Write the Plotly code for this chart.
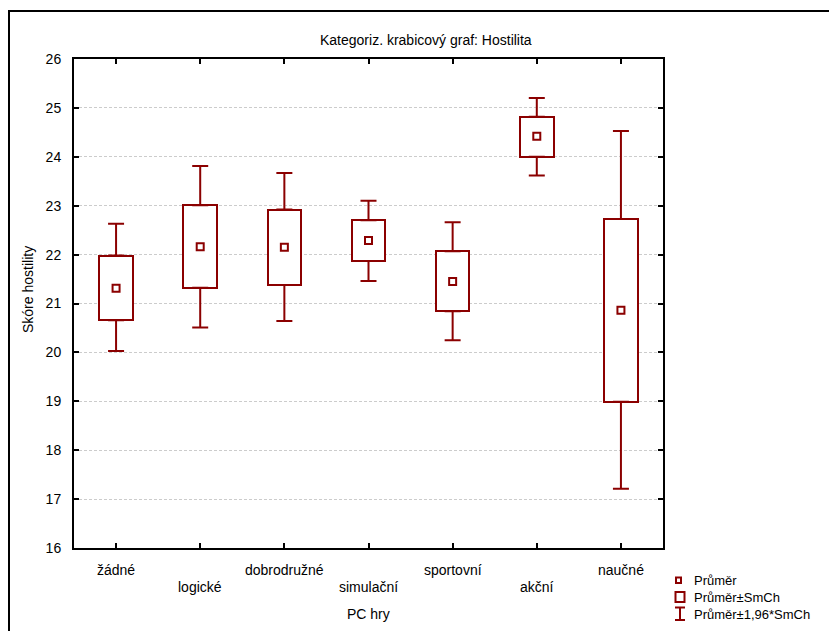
import plotly.graph_objects as go

categories = ["žádné", "logické", "dobrodružné", "simulační", "sportovní", "akční", "naučné"]
means = [21.31, 22.16, 22.15, 22.29, 21.45, 24.42, 20.86]
box_low = [20.66, 21.32, 21.38, 21.87, 20.84, 24.00, 18.99]
box_high = [21.98, 23.01, 22.92, 22.70, 22.07, 24.82, 22.73]
whisk_low = [20.03, 20.51, 20.64, 21.46, 20.25, 23.62, 17.21]
whisk_high = [22.63, 23.81, 23.67, 23.10, 22.66, 25.20, 24.53]
y_ticks = list(range(16, 27))

RED = "#8B0000"
FONT = "Liberation Sans, Arial, sans-serif"

W, H = 829, 631
L, R, T, B = 74, 166, 59, 83
PW, PH = W - L - R, H - T - B


def px(x):
    return (x - L) / PW


def py(y):
    return (H - B - y) / PH


fig = go.Figure()

# upper whiskers
fig.add_trace(go.Scatter(
    x=categories, y=box_high, mode="markers",
    marker=dict(size=1, color="rgba(0,0,0,0)"),
    error_y=dict(type="data", symmetric=False,
                 array=[h - b for h, b in zip(whisk_high, box_high)],
                 arrayminus=[0] * len(categories),
                 color=RED, thickness=2, width=8),
    showlegend=False, hoverinfo="skip"))
# lower whiskers
fig.add_trace(go.Scatter(
    x=categories, y=box_low, mode="markers",
    marker=dict(size=1, color="rgba(0,0,0,0)"),
    error_y=dict(type="data", symmetric=False,
                 array=[0] * len(categories),
                 arrayminus=[b - l for b, l in zip(box_low, whisk_low)],
                 color=RED, thickness=2, width=8),
    showlegend=False, hoverinfo="skip"))
# boxes (mean ± SE)
fig.add_trace(go.Bar(
    x=categories, base=box_low,
    y=[h - l for h, l in zip(box_high, box_low)],
    width=0.4, marker=dict(color="white", line=dict(color=RED, width=2)),
    showlegend=False))
# means
fig.add_trace(go.Scatter(
    x=categories, y=means, mode="markers",
    marker=dict(symbol="square", size=7, color="white", line=dict(color=RED, width=2)),
    showlegend=False))

fig.update_layout(
    width=W, height=H,
    margin=dict(l=L, r=R, t=T, b=B),
    paper_bgcolor="white", plot_bgcolor="white",
    font=dict(family=FONT, size=14, color="black"),
    bargap=0,
)
fig.update_xaxes(
    type="category", range=[-0.5, len(categories) - 0.5],
    showline=True, linecolor="black", linewidth=2, mirror="ticks",
    ticks="inside", ticklen=5, tickcolor="black", tickwidth=2,
    showticklabels=False, showgrid=False, zeroline=False)
fig.update_yaxes(
    range=[16, 26], tickvals=y_ticks, ticktext=[str(v) for v in y_ticks],
    showline=True, linecolor="black", linewidth=2, mirror="ticks",
    ticks="inside", ticklen=5, tickcolor="black", tickwidth=2,
    showgrid=True, gridcolor="#cccccc", griddash="3px,2px", gridwidth=1,
    zeroline=False, ticklabelstandoff=8, tickfont=dict(size=14))

annotations = []
# staggered category labels
for i, c in enumerate(categories):
    annotations.append(dict(x=c, y=py(570 if i % 2 == 0 else 587), xref="x", yref="paper",
                            text=c, showarrow=False, yanchor="middle", xanchor="center"))
annotations.append(dict(x=0.5, y=py(614), xref="paper", yref="paper", text="PC hry",
                        showarrow=False, yanchor="middle"))
annotations.append(dict(x=px(28), y=py(290), xref="paper", yref="paper", text="Skóre hostility",
                        textangle=-90, showarrow=False, xanchor="center", yanchor="middle"))
annotations.append(dict(x=px(426), y=py(40), xref="paper", yref="paper",
                        text="Kategoriz. krabicový graf: Hostilita",
                        showarrow=False, xanchor="center", yanchor="middle"))
# legend texts
for yy, t in [(580, "Průměr"), (597, "Průměr±SmCh"), (614, "Průměr±1,96*SmCh")]:
    annotations.append(dict(x=px(692), y=py(yy), xref="paper", yref="paper", text=t,
                            showarrow=False, xanchor="left", yanchor="middle",
                            font=dict(size=13)))
fig.update_layout(annotations=annotations)

shapes = []
# outer frame
shapes.append(dict(type="rect", xref="paper", yref="paper",
                   x0=px(9), x1=px(845), y0=py(645), y1=py(11),
                   line=dict(color="black", width=2), layer="above"))
# legend glyphs
shapes.append(dict(type="rect", xref="paper", yref="paper",
                   x0=px(676), x1=px(681), y0=py(583), y1=py(577.5),
                   line=dict(color=RED, width=2)))
shapes.append(dict(type="rect", xref="paper", yref="paper",
                   x0=px(675.5), x1=px(684.5), y0=py(602), y1=py(592),
                   line=dict(color=RED, width=2)))
for x0, x1, y0, y1 in [(675, 685, 607.5, 607.5), (675, 685, 620, 620), (680, 680, 607.5, 620)]:
    shapes.append(dict(type="line", xref="paper", yref="paper",
                       x0=px(x0), x1=px(x1), y0=py(y0), y1=py(y1),
                       line=dict(color=RED, width=2)))
fig.update_layout(shapes=shapes)

fig.write_html("out.html")
